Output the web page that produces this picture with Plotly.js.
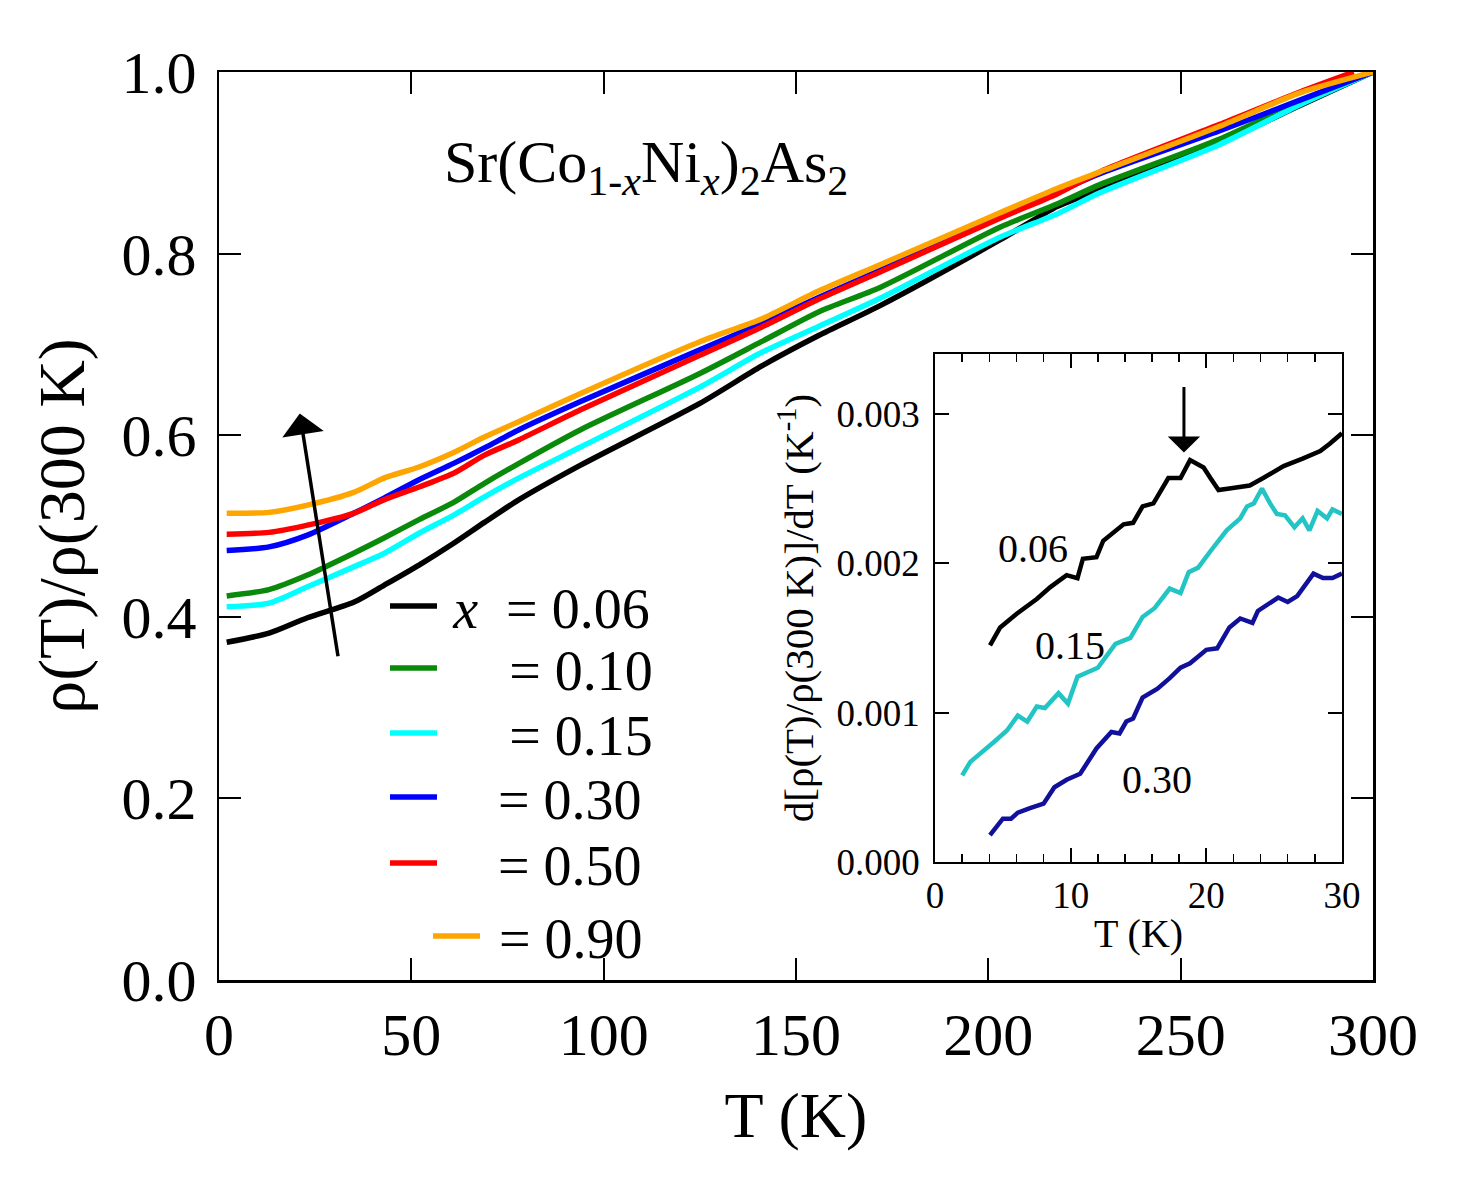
<!DOCTYPE html>
<html><head><meta charset="utf-8">
<script src="https://cdn.plot.ly/plotly-3.0.1.min.js"></script>
<style>body{margin:0;background:#fff}#chart{width:1465px;height:1187px}</style>
</head><body><div id="chart"></div><script>
// ---- main panel data: rho(T)/rho(300 K) ----
const T_main = [2,13,23,35,43,52,61,69,78,94,125,141,156,172,203,218,229,260,281,300];
const T_red  = [2,13,23,35,43,52,61,69,78,94,125,141,156,172,203,218,229,260,281,295];
const rho_006 = [0.372,0.382,0.399,0.416,0.435,0.457,0.481,0.504,0.529,0.567,0.635,0.676,0.710,0.743,0.815,0.852,0.870,0.922,0.963,1.0];
const rho_010 = [0.423,0.430,0.446,0.470,0.487,0.507,0.526,0.547,0.569,0.606,0.668,0.703,0.736,0.763,0.829,0.855,0.876,0.926,0.967,1.0];
const rho_015 = [0.411,0.415,0.433,0.455,0.470,0.492,0.512,0.532,0.553,0.587,0.653,0.691,0.720,0.751,0.818,0.844,0.867,0.920,0.964,1.0];
const rho_030 = [0.473,0.477,0.490,0.514,0.531,0.551,0.569,0.586,0.606,0.637,0.694,0.723,0.752,0.782,0.842,0.868,0.888,0.935,0.969,1.0];
const rho_050 = [0.491,0.493,0.501,0.514,0.529,0.543,0.558,0.578,0.595,0.628,0.688,0.719,0.750,0.780,0.839,0.866,0.890,0.942,0.978,1.0];
const rho_090 = [0.514,0.515,0.523,0.537,0.553,0.565,0.581,0.598,0.615,0.646,0.703,0.728,0.759,0.788,0.845,0.872,0.890,0.940,0.977,1.0];
const legendLabels = ["\u2009<i>x</i>\u00a0\u00a0= 0.06","\u00a0\u00a0\u00a0\u00a0\u2009= 0.10","\u00a0\u00a0\u00a0\u00a0\u2009= 0.15","\u00a0\u00a0\u00a0\u00a0= 0.30","\u00a0\u00a0\u00a0\u00a0= 0.50","\u00a0= 0.90"];

// ---- inset data: d[rho(T)/rho(300 K)]/dT ----
const Tin_006 = [4.05,4.8,6.0,7.5,8.5,9.7,10.5,10.9,11.9,12.4,13.9,14.6,15.3,16.1,17.2,18.1,18.8,19.8,20.3,20.9,21.7,23.2,24.2,25.7,27.1,28.4,29.1,30];
const din_006 = [0.00145,0.00157,0.00166,0.00176,0.00184,0.00192,0.0019,0.00203,0.00204,0.00215,0.00226,0.00227,0.00238,0.0024,0.00257,0.00257,0.00269,0.00264,0.00257,0.00249,0.0025,0.00252,0.00257,0.00265,0.0027,0.00275,0.0028,0.00287];
const Tin_015 = [2.0,2.6,4.3,5.3,6.1,6.8,7.5,8.1,9.1,9.8,10.5,11.2,12.0,13.3,14.4,15.3,16.2,17.3,18.1,18.7,19.4,20.3,21.5,22.5,23.0,23.5,24.1,24.7,25.2,25.8,26.5,27.1,27.6,28.2,28.9,29.3,30];
const din_015 = [0.00058,0.00067,0.0008,0.00088,0.00098,0.00094,0.00104,0.00103,0.00113,0.00106,0.00124,0.00127,0.0013,0.00146,0.0015,0.00164,0.0017,0.00183,0.0018,0.00194,0.00197,0.00208,0.00222,0.0023,0.00238,0.0024,0.0025,0.0024,0.00233,0.00232,0.00224,0.0023,0.00222,0.00235,0.0023,0.00236,0.00233];
const Tin_030 = [4.05,5.0,5.6,6.1,7.0,8.0,8.8,9.7,10.7,11.9,13.0,13.6,14.1,14.6,15.3,16.4,17.3,18.1,18.8,20.0,20.8,21.7,22.5,23.4,23.8,25.3,26.0,26.7,27.9,28.6,29.3,30];
const din_030 = [0.00018,0.00029,0.00029,0.00033,0.00036,0.00039,0.0005,0.00055,0.00059,0.00076,0.00087,0.00086,0.00094,0.00096,0.0011,0.00116,0.00123,0.0013,0.00133,0.00142,0.00143,0.00157,0.00163,0.0016,0.00168,0.00177,0.00174,0.00178,0.00193,0.0019,0.0019,0.00193];
const insetLabels = ["0.06","0.15","0.30"];

const FONT = "Liberation Serif, Times New Roman, serif";
const mainColors = ["#000000","#0a8a0a","#00ffff","#0000ff","#ff0000","#ffa500"];
const mainSeries = [[T_main,rho_006],[T_main,rho_010],[T_main,rho_015],[T_main,rho_030],[T_red,rho_050],[T_main,rho_090]];
const legendNames = ["legend","legend2","legend3","legend4","legend5","legend6"];
const legendY = [606,668,733,797,863,936];
const legendX = [385,385,385,385,385,428];

const traces = mainSeries.map((s,i)=>({
  x:s[0], y:s[1], type:"scatter", mode:"lines", name:legendLabels[i],
  line:{color:mainColors[i], width:5.5, shape:"spline", smoothing:0.7}, legend:legendNames[i], xaxis:"x", yaxis:"y"
}));
const inColors = ["#000000","#22c4c4","#10109a"];
[[Tin_006,din_006],[Tin_015,din_015],[Tin_030,din_030]].forEach((s,i)=>{
  traces.push({x:s[0], y:s[1], type:"scatter", mode:"lines", showlegend:false,
    line:{color:inColors[i], width:4.5}, xaxis:"x2", yaxis:"y2"});
});

const axBase = {showline:true, linecolor:"#000", linewidth:2.5, mirror:"allticks", ticks:"inside",
  tickcolor:"#000", showgrid:false, zeroline:false};

const layout = {
  width:1465, height:1187, paper_bgcolor:"#fff", plot_bgcolor:"rgba(0,0,0,0)",
  margin:{l:219, r:92, t:72, b:207}, font:{family:FONT, color:"#000"},
  xaxis:Object.assign({}, axBase, {range:[0,300], dtick:50, ticklen:22, tickwidth:2,
    tickfont:{size:60}, ticklabelstandoff:0,
    title:{text:"T (K)", font:{size:64}, standoff:26}}),
  yaxis:Object.assign({}, axBase, {range:[0,1], dtick:0.2, tickformat:".1f", ticklen:22, tickwidth:2,
    tickfont:{size:60}, ticklabelstandoff:8,
    title:{text:"ρ(T)/ρ(300 K)", font:{size:66}, standoff:16}}),
  xaxis2:Object.assign({}, axBase, {domain:[0.6205,0.9731], anchor:"y2", range:[0,30], dtick:10,
    ticklen:14, tickwidth:2, linewidth:2, tickfont:{size:37}, ticklabelstandoff:0,
    minor:{dtick:2, ticklen:8, ticks:"inside", tickcolor:"#000", tickwidth:1.5},
    title:{text:"T (K)", font:{size:40}, standoff:4}}),
  yaxis2:Object.assign({}, axBase, {domain:[0.130,0.6894], anchor:"x2", range:[0,0.0034], dtick:0.001,
    tickformat:".3f", ticklen:14, tickwidth:2, linewidth:2, tickfont:{size:37}, ticklabelstandoff:6,
    title:{text:"d[ρ(T)/ρ(300 K)]/dT (K<sup>-1</sup>)", font:{size:41}, standoff:10}}),
  annotations:[
    {xref:"paper", yref:"paper", x:0.370, y:0.8954, xanchor:"center", yanchor:"middle", showarrow:false,
     text:"Sr(Co<sub>1-<i>x</i></sub>Ni<sub><i>x</i></sub>)<sub>2</sub>As<sub>2</sub>", font:{size:60}},
    {xref:"x", yref:"y", x:21, y:0.624, axref:"x", ayref:"y", ax:31, ay:0.355, text:"",
     showarrow:true, arrowhead:1, arrowsize:2, arrowwidth:3.5, arrowcolor:"#000"},
    {xref:"x2", yref:"y2", x:18.35, y:0.00274, axref:"x2", ayref:"y2", ax:18.35, ay:0.00319, text:"",
     showarrow:true, arrowhead:1, arrowsize:1.8, arrowwidth:3, arrowcolor:"#000"},
    {xref:"x2", yref:"y2", x:7.2, y:0.0021, text:insetLabels[0], showarrow:false, font:{size:40}},
    {xref:"x2", yref:"y2", x:9.95, y:0.00145, text:insetLabels[1], showarrow:false, font:{size:40}},
    {xref:"x2", yref:"y2", x:16.4, y:0.00055, text:insetLabels[2], showarrow:false, font:{size:40}}
  ]
};
legendNames.forEach((ln,i)=>{
  layout[ln] = {x:(legendX[i]-219)/1154, xanchor:"left", y:(980-legendY[i])/908, yanchor:"middle",
    bgcolor:"rgba(0,0,0,0)", borderwidth:0, font:{size:56, family:FONT}, itemwidth:47};
});

Plotly.newPlot("chart", traces, layout, {displayModeBar:false, staticPlot:true});
</script></body></html>
